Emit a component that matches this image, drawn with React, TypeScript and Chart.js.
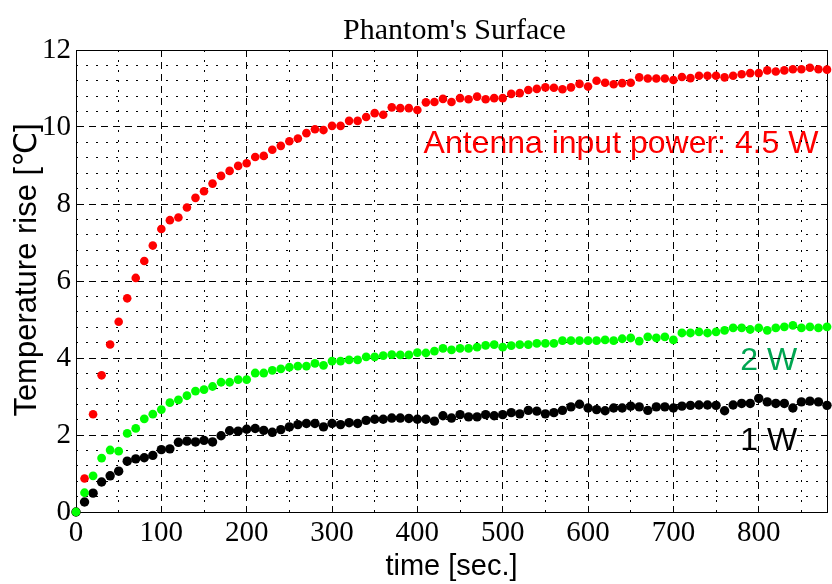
import React, { useEffect, useRef } from 'react';
import { Chart, registerables } from 'chart.js';

Chart.register(...registerables);

// ---- data ----
const timeSec = [
  0, 10, 20, 30, 40, 50, 60, 70, 80, 90,
  100, 110, 120, 130, 140, 150, 160, 170, 180, 190,
  200, 210, 220, 230, 240, 250, 260, 270, 280, 290,
  300, 310, 320, 330, 340, 350, 360, 370, 380, 390,
  400, 410, 420, 430, 440, 450, 460, 470, 480, 490,
  500, 510, 520, 530, 540, 550, 560, 570, 580, 590,
  600, 610, 620, 630, 640, 650, 660, 670, 680, 690,
  700, 710, 720, 730, 740, 750, 760, 770, 780, 790,
  800, 810, 820, 830, 840, 850, 860, 870, 880,
];

const rise45W = [
  0, 0.87, 2.54, 3.55, 4.35, 4.94, 5.55, 6.08, 6.52, 6.92,
  7.35, 7.58, 7.65, 7.91, 8.16, 8.33, 8.53, 8.73, 8.86, 8.99,
  9.06, 9.22, 9.25, 9.41, 9.51, 9.63, 9.70, 9.84, 9.94, 9.92,
  10.03, 10.03, 10.16, 10.16, 10.26, 10.36, 10.32, 10.51, 10.49, 10.49,
  10.44, 10.64, 10.65, 10.73, 10.65, 10.75, 10.72, 10.79, 10.72, 10.75,
  10.75, 10.86, 10.88, 10.96, 10.99, 11.03, 11.02, 10.98, 11.03, 11.12,
  11.05, 11.20, 11.15, 11.11, 11.14, 11.15, 11.29, 11.26, 11.26, 11.26,
  11.22, 11.30, 11.27, 11.33, 11.33, 11.33, 11.29, 11.33, 11.37, 11.40,
  11.40, 11.47, 11.44, 11.47, 11.50, 11.50, 11.54, 11.50, 11.49,
];

const rise2W = [
  0, 0.50, 0.94, 1.40, 1.61, 1.58, 2.04, 2.17, 2.42, 2.54,
  2.66, 2.84, 2.91, 3.02, 3.14, 3.18, 3.26, 3.37, 3.37, 3.44,
  3.44, 3.61, 3.61, 3.68, 3.72, 3.76, 3.79, 3.79, 3.86, 3.81,
  3.92, 3.92, 3.95, 3.95, 4.03, 4.03, 4.06, 4.09, 4.08, 4.08,
  4.14, 4.13, 4.18, 4.25, 4.21, 4.25, 4.25, 4.28, 4.33, 4.35,
  4.28, 4.32, 4.35, 4.35, 4.38, 4.38, 4.38, 4.45, 4.45, 4.45,
  4.45, 4.45, 4.47, 4.45, 4.50, 4.52, 4.44, 4.55, 4.52, 4.55,
  4.47, 4.65, 4.65, 4.68, 4.65, 4.68, 4.72, 4.78, 4.78, 4.74,
  4.78, 4.72, 4.78, 4.81, 4.85, 4.78, 4.81, 4.78, 4.81,
];

const rise1W = [
  0, 0.26, 0.49, 0.78, 0.94, 1.06, 1.32, 1.38, 1.41, 1.47,
  1.62, 1.64, 1.81, 1.84, 1.82, 1.86, 1.82, 1.98, 2.11, 2.10,
  2.15, 2.17, 2.12, 2.07, 2.14, 2.21, 2.27, 2.30, 2.30, 2.21,
  2.30, 2.27, 2.32, 2.30, 2.38, 2.41, 2.41, 2.44, 2.44, 2.43,
  2.41, 2.41, 2.36, 2.50, 2.44, 2.53, 2.47, 2.47, 2.53, 2.50,
  2.53, 2.58, 2.55, 2.64, 2.62, 2.55, 2.58, 2.64, 2.73, 2.80,
  2.70, 2.66, 2.63, 2.70, 2.70, 2.75, 2.73, 2.64, 2.73, 2.73,
  2.70, 2.75, 2.77, 2.78, 2.78, 2.77, 2.63, 2.78, 2.82, 2.82,
  2.95, 2.86, 2.82, 2.82, 2.70, 2.86, 2.88, 2.86, 2.77,
];

const X_MIN = 0;
const X_MAX = 880;
const X_MAJOR_STEP = 100;
const X_MINOR_STEP = 50;
const Y_MIN = 0;
const Y_MAX = 12;
const Y_MAJOR_STEP = 2;
const Y_MINOR_STEP = 0.4;

const TITLE = "Phantom's Surface";
const X_TITLE = 'time [sec.]';
const Y_TITLE = 'Temperature rise [℃]';

// annotation labels: text, anchor time, anchor value, colour
const labelTexts = ['Antenna input power: 4.5 W', '2 W', '1 W'];
const labelX = [870, 845, 845];
const labelY = [9.32, 3.68, 1.6];
const labelColors = ['#ff0000', '#00a651', '#000000'];

const SERIF = '"Liberation Serif", "Times New Roman", serif';
const SANS = '"Liberation Sans", Arial, "DejaVu Sans", sans-serif';

const toPoints = (vals: number[]) => timeSec.map((t, i) => ({ x: t, y: vals[i] }));

const isMultiple = (v: number, step: number) => Math.abs(v / step - Math.round(v / step)) < 1e-6;

const textPlugin = {
  id: 'texts',
  beforeDraw(chart: any) {
    const ctx = chart.ctx;
    const xs = chart.scales.x;
    const ys = chart.scales.y;
    ctx.save();
    ctx.font = `32px ${SANS}`;
    ctx.textAlign = 'right';
    ctx.textBaseline = 'alphabetic';
    labelTexts.forEach((t, i) => {
      ctx.fillStyle = labelColors[i];
      ctx.fillText(t, xs.getPixelForValue(labelX[i]), ys.getPixelForValue(labelY[i]));
    });
    ctx.restore();
  },
  beforeDatasetsDraw(chart: any) {
    const ctx = chart.ctx;
    const a = chart.chartArea;
    ctx.save();
    ctx.strokeStyle = '#000';
    ctx.lineWidth = 1;
    ctx.setLineDash([]);
    ctx.strokeRect(Math.round(a.left) + 0.5, Math.round(a.top) + 0.5, Math.round(a.right - a.left), Math.round(a.bottom - a.top));
    ctx.restore();
  },
  afterDraw(chart: any) {
    const ctx = chart.ctx;
    const a = chart.chartArea;
    ctx.save();
    ctx.fillStyle = '#000';
    ctx.textAlign = 'center';
    ctx.textBaseline = 'alphabetic';
    ctx.font = `30px ${SERIF}`;
    ctx.fillText(TITLE, (a.left + a.right) / 2 + 3, 39);
    ctx.font = `29px ${SANS}`;
    ctx.fillText(X_TITLE, (a.left + a.right) / 2, 575);
    ctx.font = `31px ${SANS}`;
    ctx.translate(36, (a.top + a.bottom) / 2 - 11);
    ctx.rotate(-Math.PI / 2);
    ctx.fillText(Y_TITLE, 0, 0);
    ctx.restore();
  },
};

export default function App() {
  const ref = useRef<HTMLCanvasElement | null>(null);

  useEffect(() => {
    document.body.style.margin = '0';
    const canvas = ref.current;
    if (!canvas) return;
    const chart = new Chart(canvas, {
      type: 'scatter',
      data: {
        datasets: [
          {
            label: '2 W',
            data: toPoints(rise2W),
            backgroundColor: '#00ff00',
            borderColor: '#00ff00',
            pointRadius: 4.4,
            pointBorderWidth: 0,
            showLine: false,
            clip: false,
          },
          {
            label: '1 W',
            data: toPoints(rise1W),
            backgroundColor: '#000000',
            borderColor: '#000000',
            pointRadius: 4.7,
            pointBorderWidth: 0,
            showLine: false,
            clip: false,
          },
          {
            label: '4.5 W',
            data: toPoints(rise45W),
            backgroundColor: '#ff0000',
            borderColor: '#ff0000',
            pointRadius: 4.3,
            pointBorderWidth: 0,
            showLine: false,
            clip: false,
          },
        ],
      } as any,
      options: {
        responsive: false,
        animation: false,
        events: [],
        layout: { padding: { top: 50, right: 5, left: 0, bottom: 0 } },
        plugins: {
          legend: { display: false },
          tooltip: { enabled: false },
          title: { display: false },
        },
        scales: {
          x: {
            type: 'linear',
            position: 'bottom',
            min: X_MIN,
            max: X_MAX,
            ticks: {
              stepSize: X_MAJOR_STEP,
              includeBounds: false,
              autoSkip: false,
              maxRotation: 0,
              padding: 4,
              color: '#000',
              font: { family: SERIF, size: 29 },
            },
            grid: { color: '#000', lineWidth: 1, drawTicks: false },
            border: { display: true, color: '#000', width: 1, dash: [7, 5] },
            afterFit: (s: any) => { s.height = 72; },
          },
          x2: {
            type: 'linear',
            position: 'bottom',
            min: X_MIN,
            max: X_MAX,
            ticks: { display: false, stepSize: X_MINOR_STEP, includeBounds: false },
            grid: {
              drawTicks: false,
              lineWidth: 1,
              color: (c: any) => (c.tick && isMultiple(c.tick.value, X_MAJOR_STEP) ? 'rgba(0,0,0,0)' : '#000'),
            },
            border: { display: false, dash: [2, 8] },
            afterFit: (s: any) => { s.height = 0; },
          },
          y: {
            type: 'linear',
            position: 'left',
            min: Y_MIN,
            max: Y_MAX,
            ticks: {
              stepSize: Y_MAJOR_STEP,
              autoSkip: false,
              padding: 5,
              color: '#000',
              font: { family: SERIF, size: 29 },
            },
            grid: { color: '#000', lineWidth: 1, drawTicks: false },
            border: { display: true, color: '#000', width: 1, dash: [7, 5] },
            afterFit: (s: any) => { s.width = 76; },
          },
          y2: {
            type: 'linear',
            position: 'left',
            min: Y_MIN,
            max: Y_MAX,
            ticks: { display: false, stepSize: Y_MINOR_STEP, includeBounds: false },
            grid: {
              drawTicks: false,
              lineWidth: 1,
              color: (c: any) => (c.tick && isMultiple(c.tick.value, Y_MAJOR_STEP) ? 'rgba(0,0,0,0)' : '#000'),
            },
            border: { display: false, dash: [2, 8] },
            afterFit: (s: any) => { s.width = 0; },
          },
        },
      } as any,
      plugins: [textPlugin],
    });
    return () => chart.destroy();
  }, []);

  return (
    <div style={{ width: 832, height: 584, position: 'relative' }}>
      <canvas ref={ref} width={832} height={584} style={{ display: 'block' }} />
    </div>
  );
}
